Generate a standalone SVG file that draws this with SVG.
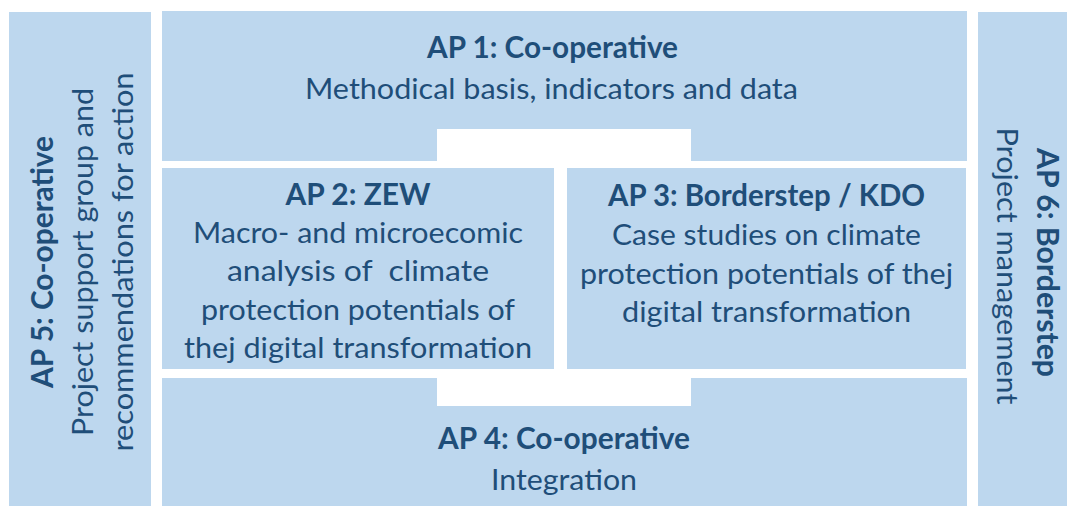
<svg xmlns="http://www.w3.org/2000/svg" width="1067" height="506" viewBox="0 0 1067 506">
<style>
.box{fill:#BDD7EE;stroke:none}
text{font-family:Lato,"Open Sans","Liberation Sans",sans-serif;font-size:29.5px;fill:#1F4E79;text-anchor:middle}
.b{font-weight:bold}
</style>
<rect width="1067" height="506" fill="#FFFFFF"/>
<g id="ap5">
<rect class="box" x="9" y="12" width="142" height="494"/>
<text class="b" transform="translate(53,262) rotate(-90)" textLength="252" lengthAdjust="spacingAndGlyphs">AP 5: Co-operative</text>
<text transform="translate(93,262) rotate(-90)" textLength="348" lengthAdjust="spacingAndGlyphs">Project support group and</text>
<text transform="translate(133,262) rotate(-90)" textLength="379" lengthAdjust="spacingAndGlyphs">recommendations for action</text>
</g>
<g id="ap1">
<path class="box" d="M162,11 H967 V161 H691 V129 H437 V161 H162 Z"/>
<text class="b" x="552.5" y="58" textLength="251" lengthAdjust="spacingAndGlyphs">AP 1: Co-operative</text>
<text x="551.5" y="99" textLength="493" lengthAdjust="spacingAndGlyphs">Methodical basis, indicators and data</text>
</g>
<g id="ap2">
<rect class="box" x="162" y="168" width="392" height="201"/>
<text class="b" x="358" y="205" textLength="145" lengthAdjust="spacingAndGlyphs">AP 2: ZEW</text>
<text x="358" y="243" textLength="330" lengthAdjust="spacingAndGlyphs">Macro- and microecomic</text>
<text x="358" y="281" textLength="262" lengthAdjust="spacingAndGlyphs" xml:space="preserve">analysis of  climate</text>
<text x="358" y="319.5" textLength="314" lengthAdjust="spacingAndGlyphs">protection potentials of</text>
<text x="358" y="358" textLength="348" lengthAdjust="spacingAndGlyphs">thej digital transformation</text>
</g>
<g id="ap3">
<rect class="box" x="567" y="168" width="399" height="201"/>
<text class="b" x="766.5" y="206" textLength="317" lengthAdjust="spacingAndGlyphs">AP 3: Borderstep / KDO</text>
<text x="766.5" y="245" textLength="309" lengthAdjust="spacingAndGlyphs">Case studies on climate</text>
<text x="766.5" y="283.5" textLength="373" lengthAdjust="spacingAndGlyphs">protection potentials of thej</text>
<text x="766.5" y="322" textLength="289" lengthAdjust="spacingAndGlyphs">digital transformation</text>
</g>
<g id="ap4">
<path class="box" d="M162,378 H437 V406 H691 V378 H967 V506 H162 Z"/>
<text class="b" x="564" y="449" textLength="252" lengthAdjust="spacingAndGlyphs">AP 4: Co-operative</text>
<text x="564" y="490" textLength="146" lengthAdjust="spacingAndGlyphs">Integration</text>
</g>
<g id="ap6">
<rect class="box" x="978" y="12" width="89" height="494"/>
<text class="b" transform="translate(1037,262.5) rotate(90)" textLength="229" lengthAdjust="spacingAndGlyphs">AP 6: Borderstep</text>
<text transform="translate(997,266) rotate(90)" textLength="277" lengthAdjust="spacingAndGlyphs">Project management</text>
</g>
<g id="connectors"></g>
</svg>
